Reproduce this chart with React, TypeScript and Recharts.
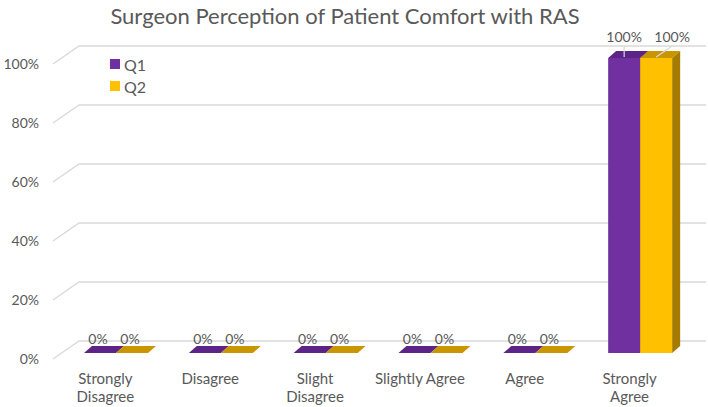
import React from "react"
import { BarChart, Bar, XAxis, YAxis, CartesianGrid, Legend, LabelList } from "recharts"

const categories = [
  "Strongly Disagree",
  "Disagree",
  "Slight Disagree",
  "Slightly Agree",
  "Agree",
  "Strongly Agree",
]
const q1Values = [0, 0, 0, 0, 0, 100]
const q2Values = [0, 0, 0, 0, 0, 100]
const yTicks = [0, 20, 40, 60, 80, 100]
// how the category names wrap under the axis
const tickLines: Record<string, string[]> = {
  "Strongly Disagree": ["Strongly", "Disagree"],
  Disagree: ["Disagree"],
  "Slight Disagree": ["Slight", "Disagree"],
  "Slightly Agree": ["Slightly Agree"],
  Agree: ["Agree"],
  "Strongly Agree": ["Strongly", "Agree"],
}

const data = categories.map((name, i) => ({ name, q1: q1Values[i], q2: q2Values[i] }))

const FONT = "Lato, 'Liberation Sans', sans-serif"
const TEXT = "#595959"
const GRID = "#d9d9d9"
const DX = 8
const DY = 7

const PURPLE = { front: "#7030a0", top: "#5b2486", side: "#4b1c70" }
const GOLD = { front: "#ffc000", top: "#c99600", side: "#a67c00" }

function Box3D(props: any) {
  const { x, y, width, height, colors } = props
  const w = Math.max(width, 0)
  const h = Math.max(height, 0)
  return (
    <g>
      {h > 0 && <rect x={x} y={y} width={w} height={h} fill={colors.front} />}
      {h > 0 && (
        <polygon
          points={`${x + w},${y} ${x + w + DX},${y - DY} ${x + w + DX},${y + h - DY} ${x + w},${y + h}`}
          fill={colors.side}
        />
      )}
      <polygon
        points={`${x},${y} ${x + DX},${y - DY} ${x + w + DX},${y - DY} ${x + w},${y}`}
        fill={colors.top}
      />
    </g>
  )
}

function GridLine3D(props: any) {
  const { x1, x2, y1 } = props
  return (
    <path
      d={`M${x1 - 11},${y1 + 6} L${x1 + 15},${y1 - 12} L${x2 + 13},${y1 - 12}`}
      stroke={GRID}
      strokeWidth={1.3}
      fill="none"
    />
  )
}

function renderLabel(p: any, shift: number) {
  const { x, y, width, value } = p
  const cx = x + width / 2
  if (!value) {
    return (
      <text x={cx - 2} y={y - 9} textAnchor="middle" fill={TEXT} fontSize={14} fontFamily={FONT}>
        {value}%
      </text>
    )
  }
  return (
    <g>
      <line x1={cx + shift} y1={y - 12} x2={cx} y2={y - 1} stroke={GRID} strokeWidth={1.2} />
      <text x={cx + shift} y={y - 16} textAnchor="middle" fill={TEXT} fontSize={14} fontFamily={FONT}>
        {value}%
      </text>
    </g>
  )
}

function XTick(props: any) {
  const { x, y, payload } = props
  const lines = tickLines[payload.value] || [payload.value]
  return (
    <text x={x - 11} y={y + 23} textAnchor="middle" fill={TEXT} fontSize={15} fontFamily={FONT}>
      {lines.map((l, i) => (
        <tspan key={l} x={x - 11} dy={i === 0 ? 0 : 18}>
          {l}
        </tspan>
      ))}
    </text>
  )
}

function YTick(props: any) {
  const { x, y, payload } = props
  return (
    <text x={x} y={y + 11} textAnchor="end" fill={TEXT} fontSize={14} fontFamily={FONT}>
      {payload.value}%
    </text>
  )
}

function LegendBox() {
  const items = [
    { label: "Q1", color: PURPLE.front },
    { label: "Q2", color: GOLD.front },
  ]
  return (
    <div style={{ fontFamily: FONT, fontSize: 16, color: TEXT }}>
      {items.map((it) => (
        <div key={it.label} style={{ display: "flex", alignItems: "center", height: 22 }}>
          <span style={{ width: 10, height: 10, background: it.color, marginRight: 4 }} />
          {it.label}
        </div>
      ))}
    </div>
  )
}

export default function App() {
  return (
    <div style={{ position: "relative", width: 708, height: 407, background: "#fff" }}>
      <style>{`body{margin:0}`}</style>
      <div
        style={{
          position: "absolute",
          top: 2,
          left: 0,
          width: 690,
          textAlign: "center",
          fontFamily: FONT,
          fontSize: 22,
          color: TEXT,
        }}
      >
        Surgeon Perception of Patient Comfort with RAS
      </div>
      <BarChart
        width={708}
        height={407}
        data={data}
        margin={{ top: 58, right: 15, bottom: 0, left: 0 }}
        barCategoryGap={20}
        barGap={0}
      >
        <CartesianGrid vertical={false} horizontal={(p: any) => <GridLine3D key={p.key} {...p} />} />
        <XAxis
          dataKey="name"
          axisLine={false}
          tickLine={false}
          height={54}
          interval={0}
          tick={<XTick />}
        />
        <YAxis
          domain={[0, 100]}
          ticks={yTicks}
          axisLine={false}
          tickLine={false}
          width={64}
          tickMargin={19}
          tick={<YTick />}
        />
        <Legend
          layout="vertical"
          align="center"
          verticalAlign="middle"
          content={() => <LegendBox />}
          wrapperStyle={{ position: "absolute", top: 53, left: 110, width: "auto" }}
        />
        <Bar
          dataKey="q1"
          name="Q1"
          fill={PURPLE.front}
          isAnimationActive={false}
          shape={(p: any) => <Box3D {...p} colors={PURPLE} />}
        >
          <LabelList dataKey="q1" content={(p: any) => renderLabel(p, 0)} />
        </Bar>
        <Bar
          dataKey="q2"
          name="Q2"
          fill={GOLD.front}
          isAnimationActive={false}
          shape={(p: any) => <Box3D {...p} colors={GOLD} />}
        >
          <LabelList dataKey="q2" content={(p: any) => renderLabel(p, 16)} />
        </Bar>
      </BarChart>
    </div>
  )
}
